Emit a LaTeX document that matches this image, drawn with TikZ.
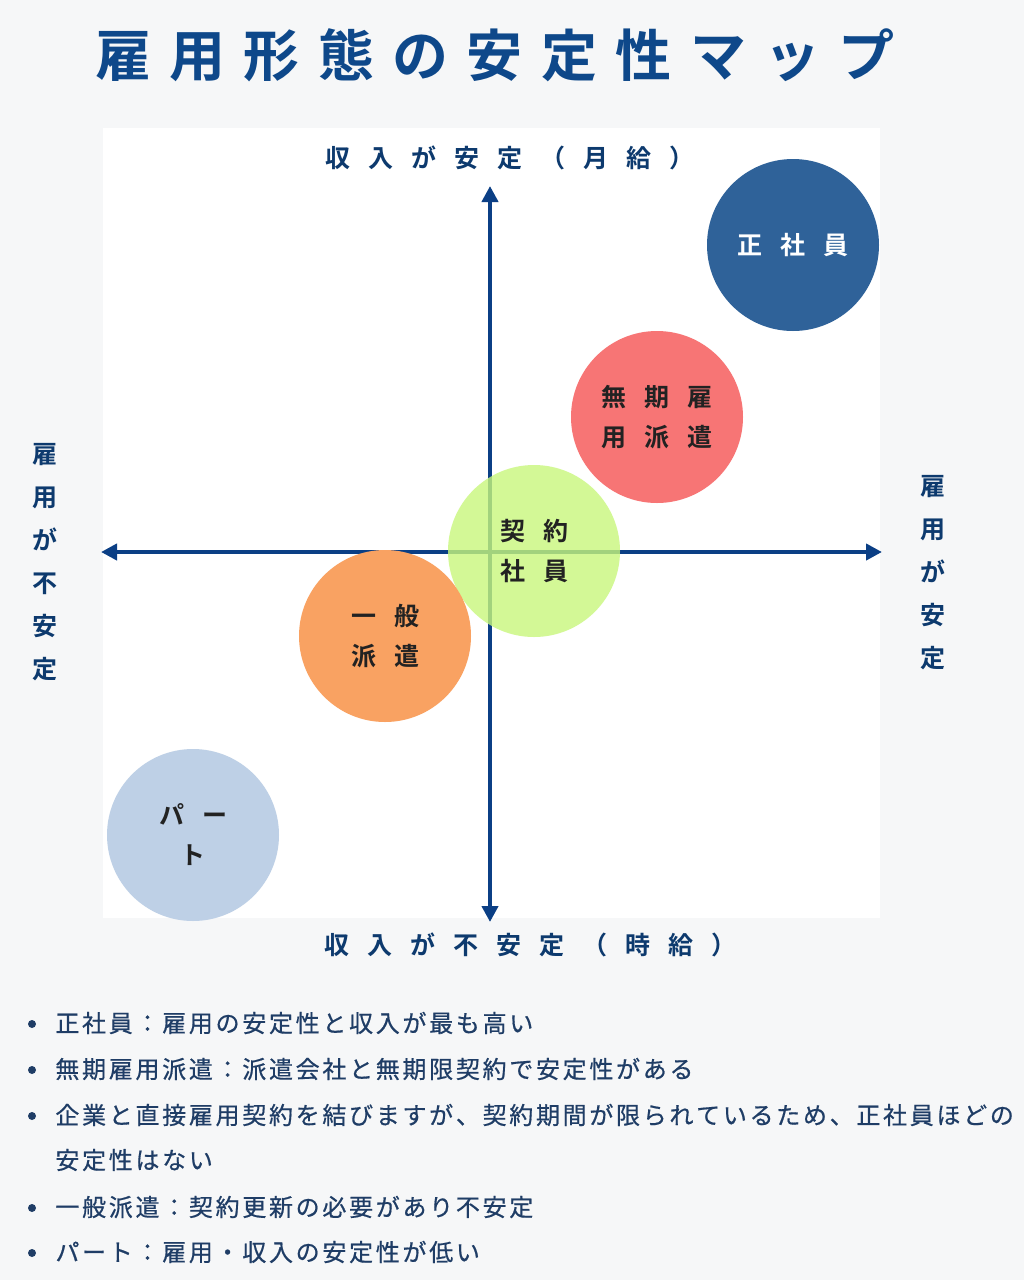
\documentclass[tikz,border=0pt]{standalone}
\usepackage{fontspec}
\usetikzlibrary{arrows.meta}
\newfontfamily\jpb{Noto Sans CJK JP Bold}
\newfontfamily\jpr[FakeBold=0.6]{Noto Sans CJK JP}
% letter-spaced text: \spc{kern}{text}
\def\spc#1#2{\def\spcamt{#1}\spcA#2\relax}
\def\spcA#1{#1\spcB}
\def\spcB#1{\ifx#1\relax\else\kern\spcamt\relax#1\expandafter\spcB\fi}
\definecolor{bg}{HTML}{F6F7F8}
\definecolor{titleblue}{HTML}{0E488A}
\definecolor{axisblue}{HTML}{0B3F85}
\definecolor{labelblue}{HTML}{0D3A6E}
\definecolor{c1}{HTML}{2F6299}
\definecolor{c2}{HTML}{F77575}
\definecolor{c3}{HTML}{C8F77C}
\definecolor{c4}{HTML}{F9A262}
\definecolor{c5}{HTML}{BED0E6}
\definecolor{ctext}{HTML}{222222}
\definecolor{btext}{HTML}{1F3D66}
\tikzset{
  axisline/.style={draw=axisblue, line width=2pt, -{Triangle[length=8pt,width=8pt]}},
  bubble/.style={circle, minimum size=86pt, inner sep=0pt, align=center,
    font=\jpb\fontsize{12.5}{20}\selectfont, text=ctext},
  axlabel/.style={font=\jpb\fontsize{12.5}{15}\selectfont, text=labelblue, inner sep=0pt},
  vlabel/.style={font=\jpb\fontsize{12.5}{21.5}\selectfont, text=labelblue, inner sep=0pt, align=center},
  bullettext/.style={font=\jpr\fontsize{12}{14}\selectfont, text=btext, anchor=west, inner sep=0pt},
  bulletdot/.style={circle, fill=btext, minimum size=4pt, inner sep=0pt},
}
\begin{document}
\begin{tikzpicture}[x=0.5pt,y=-0.5pt]
\fill[bg] (0,0) rectangle (1024,1280);
\useasboundingbox (0,0) rectangle (1024,1280);
\fill[white] (103,128) rectangle (880,918);

% title
\node[font=\jpb\fontsize{28}{32}\selectfont, text=titleblue, inner sep=0pt] (title) at (495,55) {\spc{9.2pt}{雇用形態の安定性マップ}};

% axes
\coordinate (vtop) at (490,186);
\coordinate (vbot) at (490,922);
\coordinate (hleft) at (101,552);
\coordinate (hright) at (882,552);
\coordinate (orig) at (490,552);
\draw[axisline] (orig) -- (vtop);
\draw[axisline] (orig) -- (vbot);
\draw[axisline] (orig) -- (hleft);
\draw[axisline] (orig) -- (hright);

% axis labels
\node[axlabel] (top) at (510,158) {\spc{9pt}{収入が安定（月給）}};
\node[axlabel] (bottom) at (530,945) {\spc{9pt}{収入が不安定（時給）}};
\node[vlabel] (left) at (45,562) {雇\\用\\が\\不\\安\\定};
\node[vlabel] (right) at (933,573) {雇\\用\\が\\安\\定};

% bubbles
\node[bubble, fill=c1, text=white] (seishain) at (793,245) {\spc{9pt}{正社員}};
\node[bubble, fill=c2] (muki) at (657,417) {\spc{9pt}{無期雇}\\\spc{9pt}{用派遣}};
\node[bubble, fill=c3, fill opacity=0.8, text opacity=1] (keiyaku) at (534,551) {\spc{9pt}{契約}\\\spc{9pt}{社員}};
\node[bubble, fill=c4] (ippan) at (385,636) {\spc{9pt}{一般}\\\spc{9pt}{派遣}};
\node[bubble, fill=c5] (part) at (193,835) {\spc{9pt}{パー}\\\spc{9pt}{ト}};

% bullet list
\node[bulletdot] (d1) at (32,1024) {};
\node[bullettext] (b1) at (55,1023) {\spc{1.35pt}{正社員：雇用の安定性と収入が最も高い}};
\node[bulletdot] (d2) at (32,1070) {};
\node[bullettext] (b2) at (55,1069) {\spc{1.35pt}{無期雇用派遣：派遣会社と無期限契約で安定性がある}};
\node[bulletdot] (d3) at (32,1116) {};
\node[bullettext] (b3) at (55,1115) {\spc{1.35pt}{企業と直接雇用契約を結びますが、契約期間が限られているため、正社員ほどの}};
\node[bullettext] (b3b) at (55,1160) {\spc{1.35pt}{安定性はない}};
\node[bulletdot] (d4) at (32,1208) {};
\node[bullettext] (b4) at (55,1207) {\spc{1.35pt}{一般派遣：契約更新の必要があり不安定}};
\node[bulletdot] (d5) at (32,1253) {};
\node[bullettext] (b5) at (55,1252) {\spc{1.35pt}{パート：雇用・収入の安定性が低い}};
\end{tikzpicture}
\end{document}
